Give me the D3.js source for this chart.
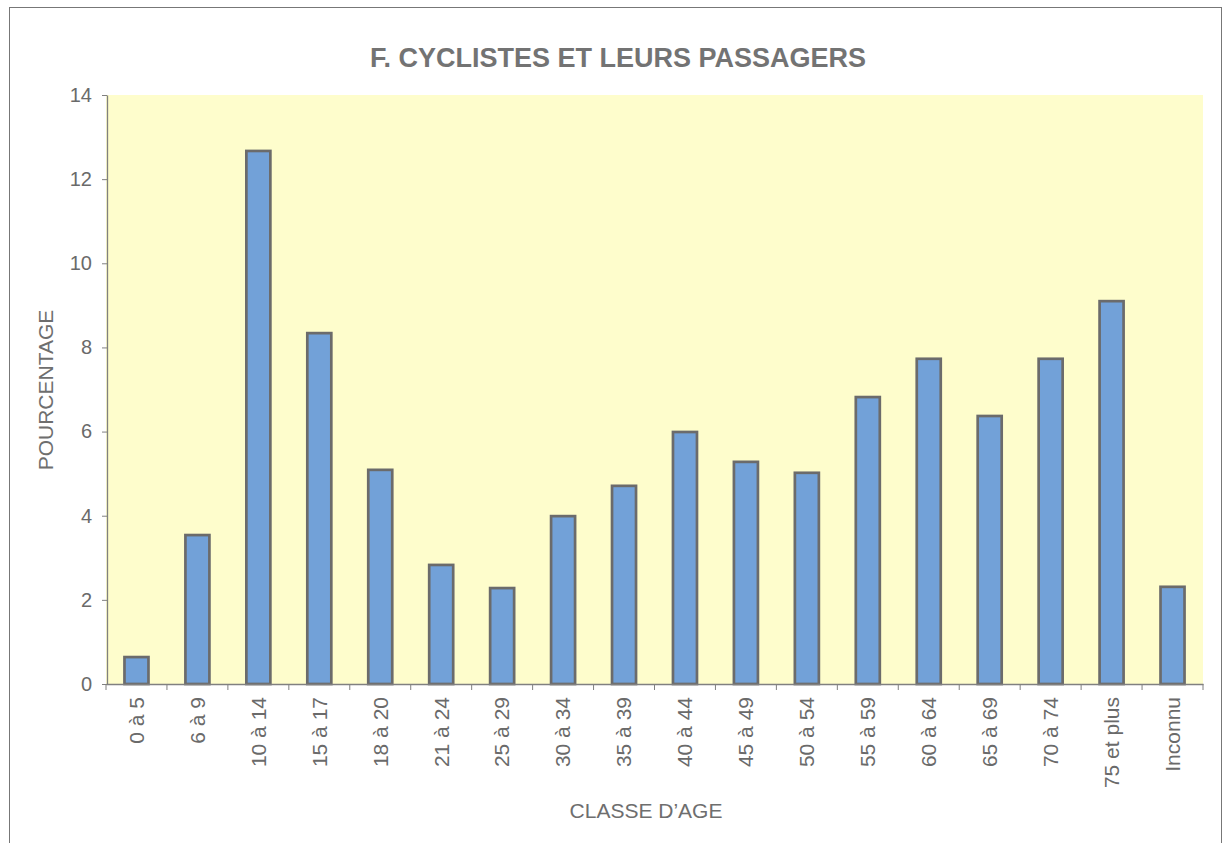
<!DOCTYPE html>
<html>
<head>
<meta charset="utf-8">
<script src="https://cdn.jsdelivr.net/npm/d3@7"></script>
<style>
  body { margin: 0; background: #fff; }
  svg { font-family: "Liberation Sans", Arial, sans-serif; }
  .tick text { fill: #6a6a6a; }
  .axis path, .axis line { stroke: #808080; }
</style>
</head>
<body>
<svg id="chart" width="1225" height="843"></svg>
<script>
var categories = ["0 à 5", "6 à 9", "10 à 14", "15 à 17", "18 à 20", "21 à 24", "25 à 29",
  "30 à 34", "35 à 39", "40 à 44", "45 à 49", "50 à 54", "55 à 59", "60 à 64",
  "65 à 69", "70 à 74", "75 et plus", "Inconnu"];
var percentages = [0.64, 3.54, 12.67, 8.34, 5.09, 2.83, 2.28, 3.99, 4.71, 5.99,
  5.28, 5.02, 6.82, 7.73, 6.37, 7.73, 9.10, 2.31];
var yTicks = [0, 2, 4, 6, 8, 10, 12, 14];

var svg = d3.select("#chart");
var plotLeft = 106, plotRight = 1203, plotTop = 95, plotBottom = 684;

// page frame
svg.append("rect")
  .attr("x", 9.5).attr("y", 7.5)
  .attr("width", 1212).attr("height", 850)
  .attr("fill", "none").attr("stroke", "#777").attr("stroke-width", 1);

var x = d3.scaleBand().domain(categories).range([plotLeft, plotRight]);
var y = d3.scaleLinear().domain([0, 14]).range([plotBottom, plotTop]);

svg.append("rect")
  .attr("x", plotLeft).attr("y", plotTop)
  .attr("width", plotRight - plotLeft).attr("height", plotBottom - plotTop)
  .attr("fill", "#fefdcc");

svg.append("text")
  .attr("x", 618).attr("y", 67)
  .attr("text-anchor", "middle")
  .attr("font-size", "27px").attr("font-weight", "bold")
  .attr("fill", "#737373")
  .text("F. CYCLISTES ET LEURS PASSAGERS");

var barW = 24;
svg.append("g").selectAll("rect")
  .data(percentages)
  .join("rect")
    .attr("x", function(d, i){ return x(categories[i]) + x.bandwidth() / 2 - barW / 2; })
    .attr("y", function(d){ return y(d); })
    .attr("width", barW)
    .attr("height", function(d){ return y(0) - y(d); })
    .attr("fill", "#72a1d8")
    .attr("stroke", "#6b6b6b")
    .attr("stroke-width", 2.7);

// y axis
var yAxis = svg.append("g")
  .attr("class", "axis")
  .attr("transform", "translate(" + (plotLeft + 1) + ",0)")
  .call(d3.axisLeft(y).tickValues(yTicks).tickSize(5).tickSizeOuter(0).tickPadding(10));
yAxis.select(".domain").attr("stroke-width", 1.3);
yAxis.selectAll(".tick text").attr("font-size", "20px");

// x axis, ticks at band boundaries
var xAxis = svg.append("g")
  .attr("class", "axis")
  .attr("transform", "translate(0," + plotBottom + ")")
  .call(d3.axisBottom(x).tickSize(0).tickSizeOuter(0));
xAxis.select(".domain").attr("stroke-width", 1.3);
xAxis.selectAll(".tick text")
  .attr("font-size", "21px")
  .attr("transform", "rotate(-90)")
  .attr("text-anchor", "end")
  .attr("x", -13).attr("y", 0).attr("dy", "0.35em");

var bounds = categories.map(function(c){ return x(c); }).concat([plotRight]);
xAxis.selectAll("line.bound")
  .data(bounds)
  .join("line")
    .attr("class", "bound")
    .attr("x1", function(d){ return d; }).attr("x2", function(d){ return d; })
    .attr("y1", 0).attr("y2", 6)
    .attr("stroke", "#808080");

svg.append("text")
  .attr("transform", "translate(53,390) rotate(-90)")
  .attr("text-anchor", "middle")
  .attr("font-size", "21px").attr("fill", "#6e6e6e")
  .text("POURCENTAGE");

svg.append("text")
  .attr("x", 646).attr("y", 818)
  .attr("text-anchor", "middle")
  .attr("font-size", "21px").attr("fill", "#6e6e6e")
  .text("CLASSE D’AGE");
</script>
</body>
</html>
